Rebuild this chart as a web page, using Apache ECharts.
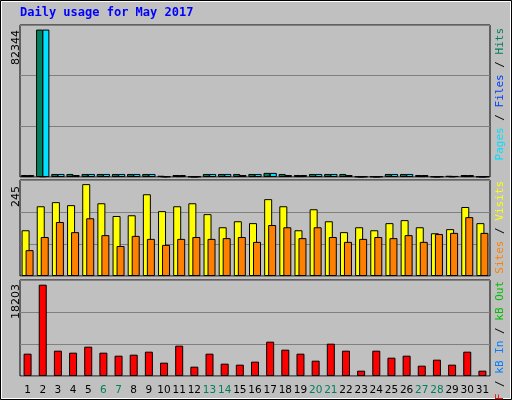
<!DOCTYPE html>
<html><head><meta charset="utf-8">
<script src="https://cdn.jsdelivr.net/npm/echarts@6/dist/echarts.min.js"></script>
<style>html,body{margin:0;padding:0;background:#c0c0c0}#c{width:512px;height:400px}</style>
</head><body><div id="c"></div>
<script>
const days = Array.from({length:31},(_,i)=>String(i+1));
const weekend = ['6','7','13','14','20','21','27','28'];
const hits  = [1100,82344,1700,1700,1700,1700,1700,1700,1700,700,1100,300,1700,1700,1700,1700,2300,1700,1100,1700,1700,1700,300,300,1700,1700,1100,300,700,1100,300];
const files = [500,400,600,600,600,600,600,600,600,300,500,200,600,600,600,600,700,600,500,600,600,600,200,200,600,600,500,200,300,500,200];
const pages = [1100,82344,1700,1100,1700,1700,1700,1700,1700,300,1100,300,1700,1700,1100,1700,2300,1100,1100,1700,1700,1100,300,300,1700,1700,1100,300,600,1100,300];
const visits = [122,186,197,189,245,194,160,162,218,173,186,194,165,130,146,141,205,186,122,178,146,117,130,122,141,149,130,114,125,184,141];
const sites  = [69,104,144,117,154,109,80,107,99,83,99,104,99,101,104,91,136,130,101,130,104,91,99,104,101,109,91,112,115,157,115];
const kbF = [4451,18203,5049,4650,5846,4650,4052,4252,4850,2657,6045,1860,4451,2458,2259,2857,6843,5248,4451,3056,6444,5049,1063,5049,3654,4052,2059,3255,2259,4850,1063];
const maxTop=84900, maxMid=256, maxBot=19140;
const grids=[{left:20,right:22,top:25,height:152},{left:20,right:22,top:180,height:96},{left:20,right:22,top:280,height:96}];
const ch=echarts.init(document.getElementById('c'));
const stroke={borderColor:'#000',borderWidth:1};
const F='11px "DejaVu Sans Mono"';
function xa(i,show){return {type:'category',gridIndex:i,data:days,axisLine:{show:false},axisTick:{show:false},
 axisLabel:{show:show,interval:0,fontFamily:'DejaVu Sans',fontSize:10.5,margin:9,color:v=>weekend.includes(v)?'#00805c':'#000'}};}
function ya(i,max){return {type:'value',gridIndex:i,min:0,max:max,interval:max/3,axisLabel:{show:false},axisLine:{show:false},axisTick:{show:false},splitLine:{lineStyle:{color:'#808080',width:1}}};}
ch.setOption({
 backgroundColor:'#c0c0c0',animation:false,
 grid:grids.map(g=>Object.assign({show:true,backgroundColor:'#c0c0c0',borderColor:'#000',borderWidth:1},g)),
 xAxis:[xa(0,false),xa(1,false),xa(2,true)],
 yAxis:[ya(0,maxTop),ya(1,maxMid),ya(2,maxBot)],
 series:[
  {type:'bar',xAxisIndex:0,yAxisIndex:0,data:hits,barWidth:7,barGap:'-55%',itemStyle:Object.assign({color:'#00805c'},stroke)},
  {type:'bar',xAxisIndex:0,yAxisIndex:0,data:files,barWidth:7,barGap:'-55%',itemStyle:Object.assign({color:'#0040ff'},stroke)},
  {type:'bar',xAxisIndex:0,yAxisIndex:0,data:pages,barWidth:7,barGap:'-55%',itemStyle:Object.assign({color:'#00e0ff'},stroke)},
  {type:'bar',xAxisIndex:1,yAxisIndex:1,data:visits,barWidth:8,barGap:'-50%',itemStyle:Object.assign({color:'#ffff00'},stroke)},
  {type:'bar',xAxisIndex:1,yAxisIndex:1,data:sites,barWidth:8,barGap:'-50%',itemStyle:Object.assign({color:'#ff8000'},stroke)},
  {type:'bar',xAxisIndex:2,yAxisIndex:2,data:kbF,barWidth:8,itemStyle:Object.assign({color:'#ff0000'},stroke)}
 ],
 graphic:[
  {type:'rect',shape:{x:0.5,y:0.5,width:511,height:399},style:{fill:'none',stroke:'#000',lineWidth:1}},
  {type:'rect',shape:{x:1.5,y:1.5,width:509,height:397},style:{fill:'none',stroke:'#fff',lineWidth:1}},
  {type:'text',left:20,top:7,style:{text:'Daily usage for May 2017',fill:'#0000ff',font:'bold 12px "DejaVu Sans Mono"'}},
  {type:'text',x:11,y:30,rotation:Math.PI/2,style:{text:'82344',fill:'#000',font:'11px "DejaVu Sans"',align:'right',verticalAlign:'top'}},
  {type:'text',x:11,y:186,rotation:Math.PI/2,style:{text:'245',fill:'#000',font:'11px "DejaVu Sans"',align:'right',verticalAlign:'top'}},
  {type:'text',x:11,y:284,rotation:Math.PI/2,style:{text:'18203',fill:'#000',font:'11px "DejaVu Sans"',align:'right',verticalAlign:'top'}},
  {type:'text',x:495,y:28,rotation:Math.PI/2,style:{text:'{p|Pages}{s| / }{f|Files}{s| / }{h|Hits}',align:'right',verticalAlign:'top',
    font:F,rich:{h:{fill:'#00805c',font:F},s:{fill:'#000',font:F},f:{fill:'#0040ff',font:F},p:{fill:'#00e0ff',font:F}}}},
  {type:'text',x:495,y:181,rotation:Math.PI/2,style:{text:'{o|Sites}{s| / }{v|Visits}',align:'right',verticalAlign:'top',
    font:F,rich:{v:{fill:'#ffff00',font:F},s:{fill:'#000',font:F},o:{fill:'#ff8000',font:F}}}},
  {type:'text',x:495,y:281,rotation:Math.PI/2,style:{text:'{r|kB F}{s| / }{b|kB In}{s| / }{g|kB Out}',align:'right',verticalAlign:'top',
    font:F,rich:{g:{fill:'#00c000',font:F},s:{fill:'#000',font:F},b:{fill:'#0080ff',font:F},r:{fill:'#ff0000',font:F}}}}
 ]
});
</script></body></html>
